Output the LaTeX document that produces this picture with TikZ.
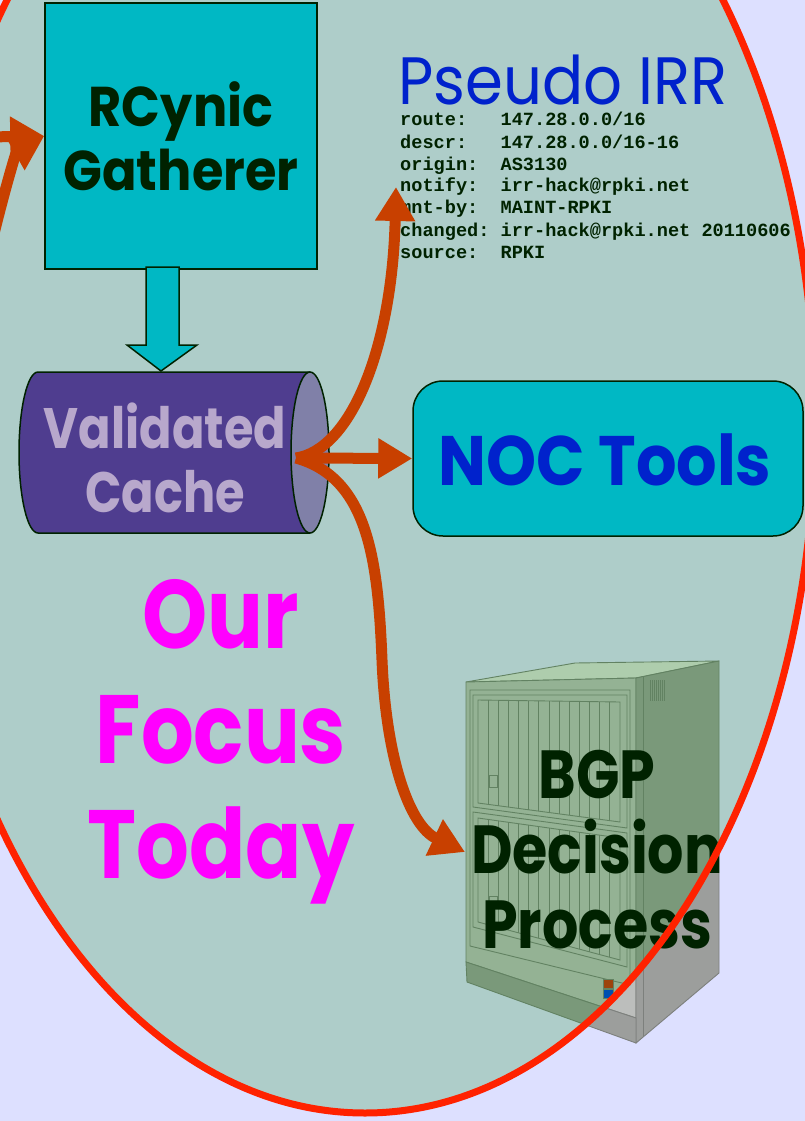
\documentclass[tikz,border=0pt]{standalone}
\usepackage{fontspec}
\setmainfont{Liberation Serif}
\newfontfamily\comic[FakeStretch=0.91]{Poppins}
\newfontfamily\comicnarrow[FakeStretch=0.84]{Poppins}
\newfontfamily\comicfocus[FakeStretch=0.855]{Poppins}
\newfontfamily\courier{Liberation Mono}
\usetikzlibrary{arrows.meta}

\definecolor{lav}{RGB}{221,224,255}
\definecolor{tint}{RGB}{0,138,0}
\definecolor{ringred}{RGB}{255,34,0}
\definecolor{flowc}{RGB}{200,64,0}
\definecolor{cyanbox}{RGB}{0,184,196}
\definecolor{edge}{RGB}{0,34,0}
\definecolor{darktext}{RGB}{0,34,0}
\definecolor{cachebody}{RGB}{79,61,143}
\definecolor{cachecap}{RGB}{128,128,168}
\definecolor{cachetext}{RGB}{184,168,204}
\definecolor{irrblue}{RGB}{0,34,204}
\definecolor{focuspink}{RGB}{255,0,255}
\definecolor{srvtop}{RGB}{222,224,220}
\definecolor{srvfront}{RGB}{188,190,188}
\definecolor{srvside}{RGB}{156,158,156}
\definecolor{srvedge}{RGB}{125,128,125}
\definecolor{btnred}{RGB}{200,48,16}
\definecolor{btnblue}{RGB}{0,64,224}

% centred stack of lines; the baseline is that of the first line
\newcommand\lines[1]{\vtop{\halign{\hfil##\hfil\cr#1\crcr}}}
% fixed-width field name column of the route record
\newcommand\fld[1]{\makebox[100.44pt][l]{#1}}

\begin{document}
\begin{tikzpicture}[x=1pt,y=-1pt,
  box/.style={draw=edge, line width=1.5pt, fill=cyanbox, inner sep=0pt},
  flow/.style={draw=flowc, line width=11pt, -{Triangle[length=34pt,width=38pt]}},
  srvline/.style={draw=srvedge, line width=0.9pt},
  biglabel/.style={anchor=base, inner sep=0pt},
]
\useasboundingbox (0,0) rectangle (805,1121);
\clip (0,0) rectangle (805,1121);
\fill[lav] (0,0) rectangle (805,1121);

% ---- router cabinet ----
\filldraw[fill=srvtop, srvline] (466,682) -- (575,663) -- (719,661) -- (636,678) -- cycle;
\filldraw[fill=srvfront, srvline] (466,682) -- (636,678) -- (636,1018) -- (466,962) -- cycle;
\filldraw[fill=srvside, srvline] (636,678) -- (719,661) -- (719,973) -- (636,1043) -- cycle;
\filldraw[fill=srvside, srvline] (466,962) -- (636,1018) -- (636,1043) -- (467,982) -- cycle;
\draw[srvline] (643,676) -- (643,1037);
\draw[srvline] (470,690) -- (630,690) -- (630,985) -- (470,946) -- cycle;
\draw[srvline] (473,695) -- (627,695) -- (627,828) -- (473,807) -- cycle;
\draw[srvline] (478,700) -- (620,702) -- (620,822) -- (478,803) -- cycle;
\draw[srvline] (473,812) -- (627,833) -- (627,967) -- (473,927) -- cycle;
\draw[srvline] (478,818) -- (620,838) -- (620,960) -- (478,922) -- cycle;
\foreach \i in {1,...,13} {
  \pgfmathsetmacro\xx{478+\i*142/14}
  \pgfmathsetmacro\ta{700+\i*2/14}
  \pgfmathsetmacro\ba{803+\i*19/14}
  \pgfmathsetmacro\tb{818+\i*20/14}
  \pgfmathsetmacro\bb{922+\i*38/14}
  \draw[srvline] (\xx,\ta) -- (\xx,\ba);
  \draw[srvline] (\xx,\tb) -- (\xx,\bb);
}
\filldraw[fill=srvfront, srvline] (489,775) rectangle (497,787);
\filldraw[fill=srvfront, srvline] (489,896) rectangle (497,907);
\filldraw[fill=btnred, draw=srvedge, line width=0.8pt] (603,979) rectangle (613,988);
\filldraw[fill=btnblue, draw=srvedge, line width=0.8pt] (603,989) rectangle (613,998);
\foreach \k in {0,...,7} \draw[srvedge, line width=0.6pt] (650+\k*2,680) -- (650+\k*2,701);

% ---- focus region ----
\fill[tint, opacity=0.21] (365,420) ellipse[x radius=450, y radius=693];

% ---- gatherer ----
\node[box, minimum width=272pt, minimum height=266pt] (rcynic) at (181,136) {};
\node[biglabel, text=darktext, font=\comic\bfseries\fontsize{56}{63}\selectfont]
  (rcyniclabel) at (181,127) {\lines{RCynic\cr Gatherer}};

% block arrow from gatherer to cache
\draw[fill=cyanbox, draw=edge, line width=1.5pt]
  (146,267) -- (179,267) -- (179,345) -- (197,345) -- (161,371) -- (127,345) -- (146,345) -- cycle;

% ---- validated cache (cylinder) ----
\fill[cachebody] (38,372) -- (310,372) -- (310,533) -- (38,533)
  arc[start angle=90, end angle=270, x radius=19, y radius=80.5] -- cycle;
\draw[edge, line width=1.5pt] (310,372) -- (38,372)
  arc[start angle=270, end angle=90, x radius=19, y radius=80.5] -- (310,533);
\filldraw[fill=cachecap, draw=edge, line width=1.5pt] (310,452.5) ellipse[x radius=19, y radius=80.5];
\node[biglabel, text=cachetext, font=\comicnarrow\bfseries\fontsize{57}{64}\selectfont]
  (cache) at (165,448) {\lines{Validated\cr Cache}};
\coordinate (capsrc) at (296,458);

% ---- NOC tools ----
\node[box, rounded corners=30pt, minimum width=390pt, minimum height=155pt] (noc) at (608,458.5) {};
\node[biglabel, text=irrblue, font=\comic\bfseries\fontsize{70}{70}\selectfont]
  (noclabel) at (605,485) {NOC Tools};

% ---- pseudo IRR ----
\node[anchor=base west, inner sep=0pt, text=irrblue, font=\comic\fontsize{67}{67}\selectfont]
  (irrtitle) at (398,105) {Pseudo IRR};
\node[anchor=base west, inner sep=0pt, text=darktext, font=\courier\bfseries\fontsize{18.6}{22}\selectfont]
  (irr) at (400,126) {\vtop{%
    \hbox{\fld{route:}147.28.0.0/16}%
    \hbox{\fld{descr:}147.28.0.0/16-16}%
    \hbox{\fld{origin:}AS3130}%
    \hbox{\fld{notify:}irr-hack@rpki.net}%
    \hbox{\fld{mnt-by:}MAINT-RPKI}%
    \hbox{\fld{changed:}irr-hack@rpki.net 20110606}%
    \hbox{\fld{source:}RPKI}}};
\coordinate (irrin) at (396,187);

% ---- focus caption ----
\node[biglabel, text=focuspink, font=\comicfocus\bfseries\fontsize{97}{115}\selectfont]
  (focus) at (221,648) {\lines{Our\cr Focus\cr Today}};

% ---- flows ----
\coordinate (feedA) at (-12,137);
\coordinate (feedB) at (-8,242);
\draw[flow] (feedA) -- (rcynic.west);
\draw[flow] (feedB) .. controls (4,192) and (16,152) .. (rcynic.west);
\draw[flow] (capsrc) .. controls (350,450) and (392,350) .. (irrin);
\draw[flow] (capsrc) -- (noc.west);
\coordinate (bgpin) at (465,852);
\draw[flow] (capsrc) .. controls (368,478) and (378,560) .. (382,660)
  .. controls (386,760) and (410,826) .. (bgpin);

% ---- BGP label on the cabinet ----
\node[biglabel, text=darktext, font=\comicnarrow\bfseries\fontsize{68}{75}\selectfont]
  (bgp) at (597,798) {\lines{BGP\cr Decision\cr Process}};

% ---- focus outline ----
\draw[ringred, line width=7pt] (365,420) ellipse[x radius=450, y radius=693];
\end{tikzpicture}
\end{document}
